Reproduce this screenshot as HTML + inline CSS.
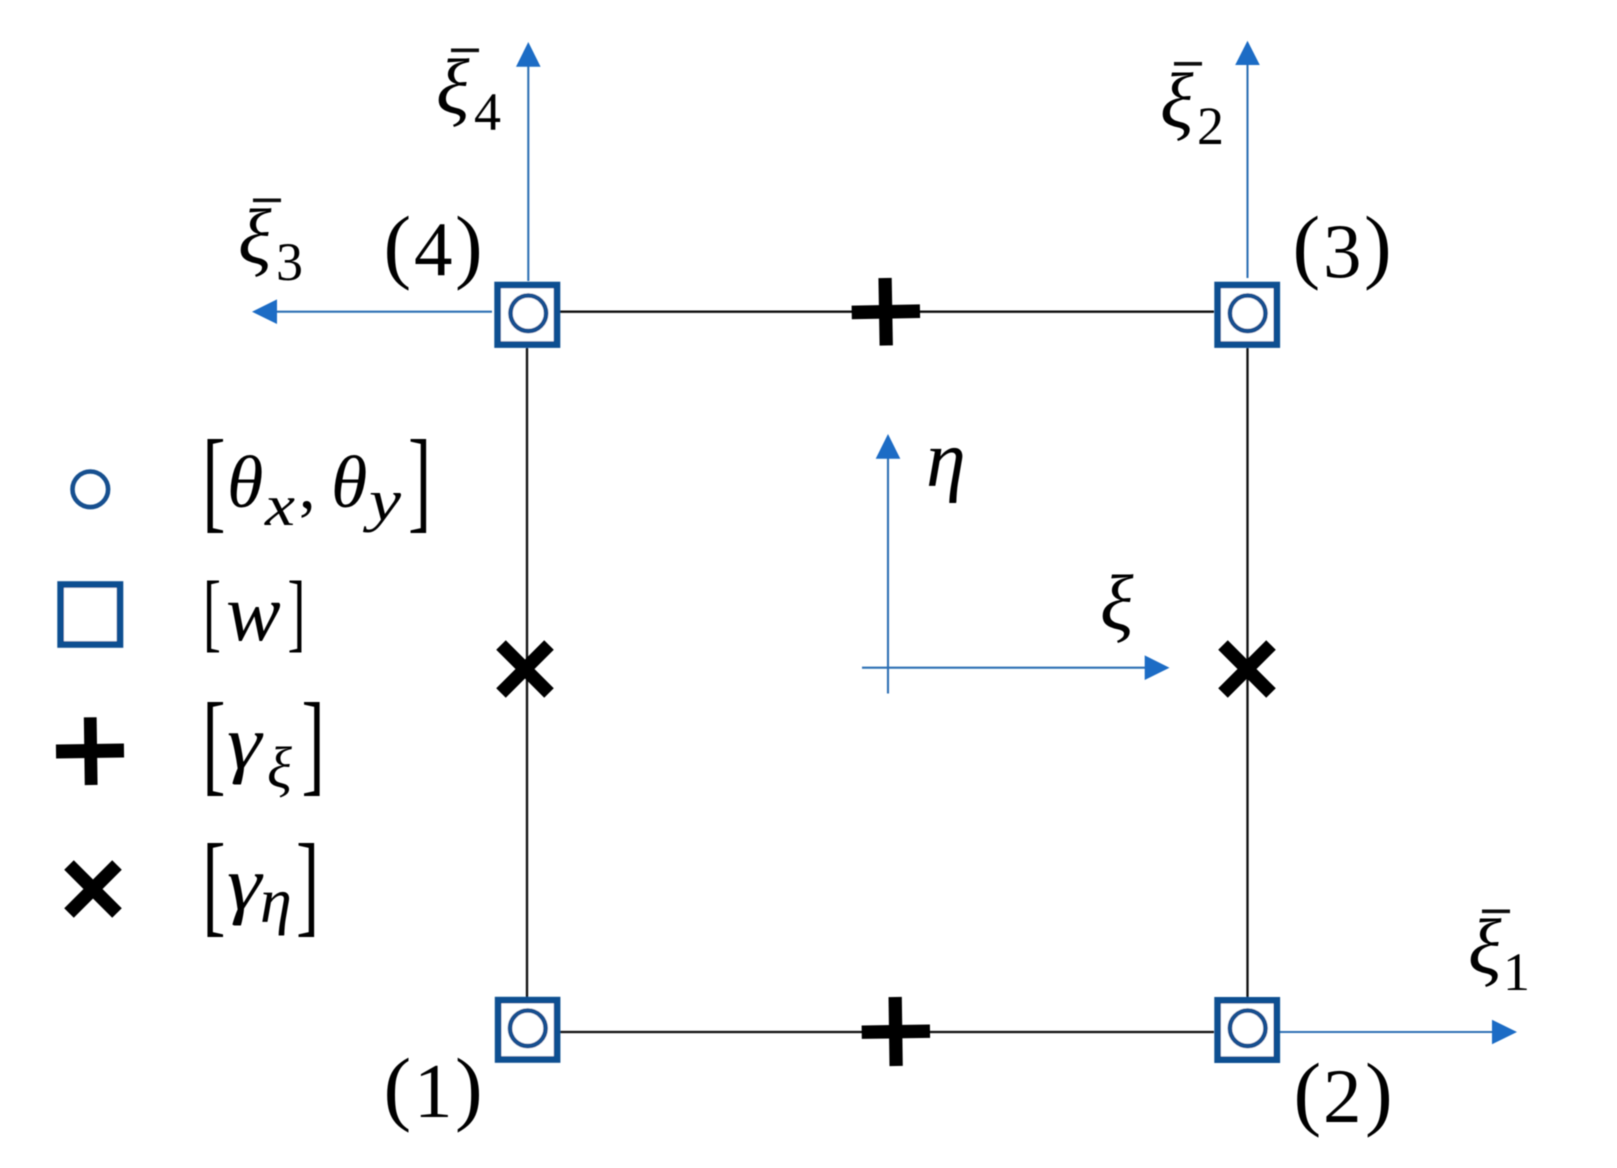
<!DOCTYPE html>
<html><head><meta charset="utf-8"><style>
html,body{margin:0;padding:0;background:#fff;width:1617px;height:1168px;overflow:hidden}
svg{display:block}
text{font-family:"Liberation Serif","DejaVu Serif",serif;fill:#050505}
.i{font-style:italic}
</style></head><body>
<svg width="1617" height="1168" viewBox="0 0 1617 1168" xmlns="http://www.w3.org/2000/svg">
<defs><filter id="b" x="-2%" y="-2%" width="104%" height="104%"><feGaussianBlur stdDeviation="0.4"/></filter></defs>
<rect width="1617" height="1168" fill="#fff"/>
<g filter="url(#b)">
<!-- element edges -->
<g stroke="#0a0a0a" stroke-width="2.3" fill="none">
<line x1="560" y1="311.7" x2="1214" y2="311.7"/>
<line x1="560" y1="1032" x2="1214" y2="1032"/>
<line x1="527" y1="348" x2="527" y2="997"/>
<line x1="1247.5" y1="348" x2="1247.5" y2="997"/>
</g>
<!-- blue axes -->
<g stroke="#2e70b4" stroke-width="2.1" fill="none">
<line x1="528.3" y1="64" x2="528.3" y2="281"/>
<line x1="275" y1="311.7" x2="492" y2="311.7"/>
<line x1="1247.5" y1="63" x2="1247.5" y2="278"/>
<line x1="1280" y1="1032" x2="1494" y2="1032"/>
<line x1="888" y1="456" x2="888" y2="693.5"/>
<line x1="862" y1="667.7" x2="1146" y2="667.7"/>
</g>
<g fill="#1b6cc5">
<polygon points="528.3,42 516,66.7 540.6,66.7"/>
<polygon points="252,311.7 277,299.4 277,324"/>
<polygon points="1247.5,40.7 1235.2,65 1259.8,65"/>
<polygon points="1517,1032 1492,1019.7 1492,1044.3"/>
<polygon points="888,434 875.7,458.7 900.3,458.7"/>
<polygon points="1169.5,667.7 1144.7,655.4 1144.7,680"/>
</g>
<!-- nodes -->
<g fill="#fff" stroke="#0d4f91" stroke-width="6.6">
<rect x="497.6" y="285" width="59.4" height="59.6"/>
<rect x="1217.6" y="285" width="59.2" height="59.6"/>
<rect x="498.1" y="1000.1" width="59" height="59.4"/>
<rect x="1217.6" y="1000.3" width="59.2" height="59.4"/>
<rect x="60.6" y="584.5" width="59.4" height="60"/>
</g>
<g fill="none" stroke="#15508f" stroke-width="4.6">
<circle cx="528.3" cy="313.3" r="17.8"/>
<circle cx="1247.7" cy="313.3" r="17.8"/>
<circle cx="527.8" cy="1028.3" r="17.8"/>
<circle cx="1247.7" cy="1028.3" r="17.8"/>
<circle cx="90.3" cy="489.3" r="17.8"/>
</g>
<!-- plus marks -->
<g fill="#000">
<g transform="rotate(-1 885.8 311.7)"><rect x="851.7" y="305" width="68.3" height="13.6"/><rect x="879" y="278" width="13.3" height="67.5"/></g>
<g transform="rotate(-0.8 896 1031.7)"><rect x="861.7" y="1025" width="68.3" height="13.4"/><rect x="889" y="997" width="13.3" height="69"/></g>
<g transform="rotate(-0.8 90 751)"><rect x="56" y="744" width="68" height="14"/><rect x="84.3" y="717.3" width="12.8" height="67.7"/></g>
</g>
<!-- x marks -->
<g stroke="#000" stroke-width="13.5" fill="none">
<path d="M501 645L549 693M549 645L501 693"/>
<path d="M1223 645L1271 693M1271 645L1223 693"/>
<path d="M69 865L117 913M117 865L69 913"/>
</g>
<!-- bars over xi -->
<g fill="#0a0a0a">
<rect x="451" y="48.5" width="28" height="3.6"/>
<rect x="253" y="198.5" width="28" height="3.6"/>
<rect x="1174" y="62" width="28" height="3.6"/>
<rect x="1482" y="909.5" width="28" height="3.6"/>
</g>
<!-- xi bar labels -->
<text class="i" x="436" y="113" font-size="78">ξ</text><text x="474" y="130" font-size="54">4</text>
<text class="i" x="238" y="263" font-size="78">ξ</text><text x="276" y="280" font-size="54">3</text>
<text class="i" x="1160" y="127" font-size="78">ξ</text><text x="1197" y="144" font-size="54">2</text>
<text class="i" x="1468" y="973" font-size="78">ξ</text><text x="1503" y="990" font-size="54">1</text>
<text class="i" x="1100" y="629" font-size="78">ξ</text>
<text class="i" x="926" y="486" font-size="80">η</text>
<!-- node numbers -->
<text x="383.5" y="273" font-size="83">(</text><text x="414" y="275" font-size="77">4</text><text x="455" y="273" font-size="83">)</text>
<text x="1292.5" y="273" font-size="83">(</text><text x="1323" y="277" font-size="77">3</text><text x="1364" y="273" font-size="83">)</text>
<text x="383.5" y="1115" font-size="83">(</text><text x="414" y="1117" font-size="77">1</text><text x="455" y="1115" font-size="83">)</text>
<text x="1293.5" y="1120" font-size="83">(</text><text x="1323" y="1122" font-size="77">2</text><text x="1365" y="1120" font-size="83">)</text>
<!-- legend -->
<text transform="translate(202.3 518) scale(.62 1)" font-size="113">[</text>
<text class="i" x="227" y="507" font-size="74">θ</text>
<text class="i" x="265" y="525" font-size="58" textLength="30" lengthAdjust="spacingAndGlyphs">x</text>
<text x="299" y="508" font-size="66">,</text>
<text class="i" x="331" y="507" font-size="74">θ</text>
<text class="i" x="369" y="520" font-size="58" textLength="32" lengthAdjust="spacingAndGlyphs">y</text>
<text transform="translate(408 518) scale(.62 1)" font-size="113">]</text>

<text transform="translate(203 641) scale(.62 1)" font-size="87">[</text>
<text class="i" x="226" y="640" font-size="82">w</text>
<text transform="translate(287.5 641) scale(.62 1)" font-size="87">]</text>

<text transform="translate(202.3 781) scale(.62 1)" font-size="113">[</text>
<text class="i" transform="translate(227 768) scale(1.15 1)" font-size="76">γ</text>
<text class="i" x="267" y="787" font-size="58">ξ</text>
<text transform="translate(301.5 781) scale(.62 1)" font-size="113">]</text>

<text transform="translate(202.3 922) scale(.62 1)" font-size="113">[</text>
<text class="i" transform="translate(227 909) scale(1.15 1)" font-size="76">γ</text>
<text class="i" x="260" y="922" font-size="64">η</text>
<text transform="translate(296 922) scale(.62 1)" font-size="113">]</text>
</g>
</svg>
</body></html>
